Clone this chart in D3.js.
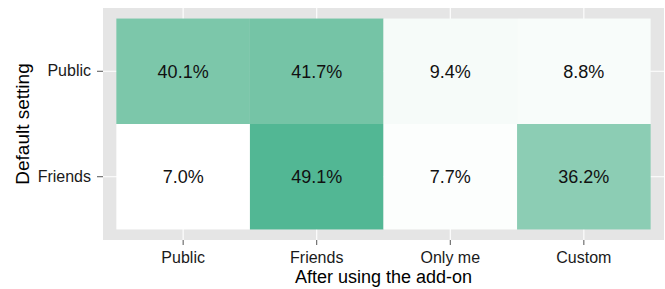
<!DOCTYPE html>
<html>
<head>
<meta charset="utf-8">
<script src="https://cdn.jsdelivr.net/npm/d3@7"></script>
<style>
  body { margin: 0; background: #fff; }
  svg text { font-family: "Liberation Sans", Arial, Helvetica, sans-serif; }
</style>
</head>
<body>
<div id="container"></div>
<script>
/* DATA */
const afterCats = ["Public", "Friends", "Only me", "Custom"];   // x axis
const defaultCats = ["Public", "Friends"];                       // y axis
const publicRow = [40.1, 41.7, 9.4, 8.8];
const friendsRow = [7.0, 49.1, 7.7, 36.2];

/* CONSTANTS */
const width = 665,
  height = 289,
  panel = { left: 103, right: 664, top: 8, bottom: 240 };

// build long-form cells from the rows
const rows = { "Public": publicRow, "Friends": friendsRow };
const cells = [];
defaultCats.forEach(r => {
  afterCats.forEach((c, i) => cells.push({ row: r, col: c, value: rows[r][i] }));
});

const svg = d3.select("#container")
  .append("svg")
  .attr("width", width)
  .attr("height", height);

// + SCALES
const xScale = d3.scaleBand()
  .domain(afterCats)
  .range([panel.left, panel.right])
  .paddingInner(0)
  .paddingOuter(0.1);

const yScale = d3.scaleBand()
  .domain(defaultCats)
  .range([panel.top, panel.bottom])
  .paddingInner(0)
  .paddingOuter(0.1);

const allVals = publicRow.concat(friendsRow);
const colorScale = d3.scaleLinear()
  .domain(d3.extent(allVals))
  .range(["#ffffff", "#52b794"])
  .interpolate(d3.interpolateLab);

// panel background + grid
svg.append("rect")
  .attr("x", panel.left)
  .attr("y", panel.top)
  .attr("width", panel.right - panel.left)
  .attr("height", panel.bottom - panel.top)
  .attr("fill", "#e5e5e5");

svg.append("g")
  .selectAll("line")
  .data(afterCats)
  .join("line")
  .attr("x1", d => xScale(d) + xScale.bandwidth() / 2)
  .attr("x2", d => xScale(d) + xScale.bandwidth() / 2)
  .attr("y1", panel.top)
  .attr("y2", panel.bottom)
  .attr("stroke", "#fff")
  .attr("stroke-width", 1.1);

svg.append("g")
  .selectAll("line")
  .data(defaultCats)
  .join("line")
  .attr("y1", d => yScale(d) + yScale.bandwidth() / 2)
  .attr("y2", d => yScale(d) + yScale.bandwidth() / 2)
  .attr("x1", panel.left)
  .attr("x2", panel.right)
  .attr("stroke", "#fff")
  .attr("stroke-width", 1.1);

// tiles
svg.append("g")
  .selectAll("rect")
  .data(cells)
  .join("rect")
  .attr("x", d => xScale(d.col))
  .attr("y", d => yScale(d.row))
  .attr("width", xScale.bandwidth())
  .attr("height", yScale.bandwidth())
  .attr("fill", d => colorScale(d.value));

// tile labels
svg.append("g")
  .selectAll("text")
  .data(cells)
  .join("text")
  .attr("x", d => xScale(d.col) + xScale.bandwidth() / 2)
  .attr("y", d => yScale(d.row) + yScale.bandwidth() / 2)
  .attr("dy", "0.36em")
  .attr("text-anchor", "middle")
  .attr("font-size", 18)
  .attr("fill", "#111")
  .text(d => d.value.toFixed(1) + "%");

// + AXES
const xAxis = d3.axisBottom(xScale).tickSize(5).tickPadding(7);
const xAxisGroup = svg.append("g")
  .attr("transform", `translate(0,${panel.bottom})`)
  .call(xAxis);

const yAxis = d3.axisLeft(yScale).tickSize(6).tickPadding(6);
const yAxisGroup = svg.append("g")
  .attr("transform", `translate(${panel.left},0)`)
  .call(yAxis);

[xAxisGroup, yAxisGroup].forEach(g => {
  g.select(".domain").remove();
  g.selectAll(".tick line").attr("stroke", "#555").attr("stroke-width", 1);
  g.selectAll(".tick text")
    .attr("font-size", 16)
    .attr("fill", "#1a1a1a")
    .attr("font-family", "'Liberation Sans', Arial, sans-serif");
});

// axis titles
svg.append("text")
  .attr("x", (panel.left + panel.right) / 2)
  .attr("y", 283)
  .attr("text-anchor", "middle")
  .attr("font-size", 18)
  .attr("fill", "#000")
  .text("After using the add-on");

svg.append("text")
  .attr("transform", `translate(29,${(panel.top + panel.bottom) / 2}) rotate(-90)`)
  .attr("text-anchor", "middle")
  .attr("font-size", 19)
  .attr("fill", "#000")
  .text("Default setting");
</script>
</body>
</html>
